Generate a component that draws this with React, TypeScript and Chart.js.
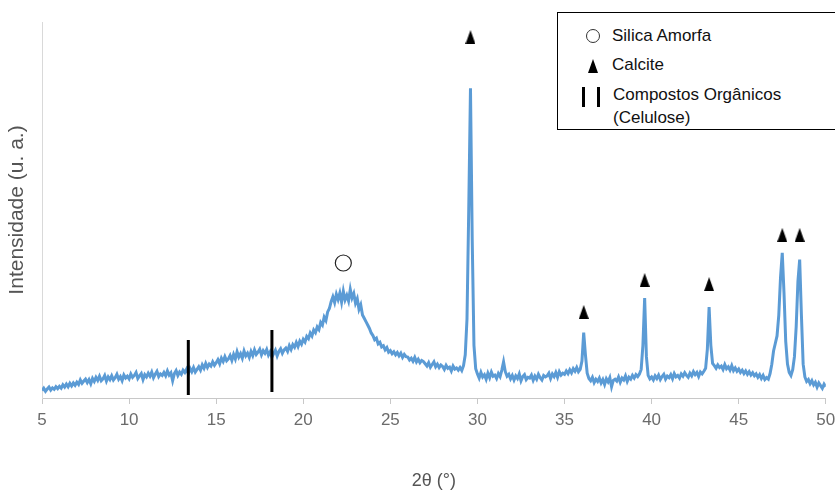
import React, { useEffect, useRef } from "react";
import { Chart, registerables } from "chart.js";

Chart.register(...registerables);

// 2θ scan: starts at 5°, 0.1° per reading
const thetaStart = 5;
const thetaStep = 0.1;

// Intensity readings (a.u.), one row per degree (x.0 … x.9)
const intensity: number[] = [
  // 5
  2.0, 2.6, 1.8, 2.4, 2.9, 2.1, 2.7, 2.3, 3.0, 2.5,
  // 6
  3.1, 2.6, 3.5, 2.9, 3.7, 3.0, 3.9, 3.2, 4.0, 3.4,
  // 7
  4.2, 3.6, 4.8, 3.9, 4.5, 5.0, 4.1, 4.9, 3.8, 5.2,
  // 8
  4.4, 5.5, 4.7, 5.8, 4.6, 5.1, 6.0, 4.5, 5.6, 4.9,
  // 9
  5.9, 4.8, 5.4, 6.3, 5.0, 5.7, 4.6, 6.1, 5.3, 5.8,
  // 10
  5.1, 6.4, 5.5, 6.0, 6.8, 5.2, 5.9, 6.5, 4.9, 6.2,
  // 11
  5.6, 6.6, 5.8, 6.9, 5.4, 6.3, 7.1, 5.7, 6.4, 6.0,
  // 12
  6.8, 5.9, 7.2, 6.1, 6.7, 4.6, 6.5, 7.3, 6.0, 6.9,
  // 13
  6.3, 7.4, 6.8, 7.7, 6.5, 7.9, 7.0, 8.1, 6.9, 7.6,
  // 14
  8.3, 7.4, 8.8, 7.9, 9.2, 8.1, 9.0, 8.5, 9.6, 8.7,
  // 15
  9.4, 10.2, 9.1, 10.6, 9.7, 11.0, 9.9, 10.4, 11.3, 10.0,
  // 16
  11.6, 10.4, 12.3, 10.9, 11.8, 10.6, 12.5, 11.2, 11.9, 10.8,
  // 17
  12.4, 11.3, 12.8, 11.6, 12.2, 13.0, 11.5, 12.6, 11.9, 12.9,
  // 18
  11.4, 12.3, 10.9, 11.8, 12.7, 11.2, 12.4, 13.1, 11.9, 12.8,
  // 19
  13.3, 12.4, 13.9, 12.9, 14.2, 13.5, 14.8, 13.7, 15.1, 14.3,
  // 20
  15.6, 14.9, 16.4, 15.8, 17.3, 16.5, 18.1, 17.4, 18.9, 18.2,
  // 21
  20.1, 19.4, 21.5, 20.6, 22.9, 23.8, 25.6, 26.9, 25.4, 27.6,
  // 22
  26.2, 27.9, 25.5, 28.4, 26.1, 27.3, 25.8, 28.9, 26.6, 27.8,
  // 23
  25.2, 26.4, 23.6, 24.8, 22.1, 21.2, 20.3, 19.4, 18.5, 17.3,
  // 24
  16.6, 15.5, 15.9, 14.4, 14.8, 13.6, 13.9, 12.8, 13.4, 12.2,
  // 25
  12.6, 11.8, 12.3, 11.5, 12.1, 11.2, 11.9, 10.8, 11.6, 11.0,
  // 26
  10.9, 10.1, 10.6, 9.8, 10.8, 9.6, 10.3, 9.4, 10.0, 9.7,
  // 27
  9.1, 8.5, 9.4, 8.2, 8.9, 9.6, 8.3, 9.0, 8.1, 8.8,
  // 28
  8.4, 7.6, 8.7, 7.9, 8.2, 7.2, 8.5, 7.7, 8.0, 7.4,
  // 29
  8.1, 7.3, 8.6, 11.5, 21.0, 50.0, 82.4, 42.0, 14.0, 7.8,
  // 30
  6.4, 5.3, 6.8, 5.6, 6.2, 5.0, 6.6, 5.4, 6.9, 5.8,
  // 31
  6.1, 5.2, 6.5, 5.7, 7.4, 9.6, 7.0, 5.8, 6.3, 5.1,
  // 32
  6.0, 4.8, 5.9, 5.2, 6.4, 4.6, 5.7, 6.2, 4.9, 5.5,
  // 33
  5.3, 6.1, 4.7, 5.8, 5.0, 6.3, 5.4, 4.8, 6.0, 5.6,
  // 34
  5.9, 6.6, 5.2, 6.4, 5.7, 6.8, 5.5, 7.0, 6.1, 6.6,
  // 35
  6.3, 7.2, 6.5, 7.5, 6.7, 7.8, 7.1, 8.1, 7.0, 7.6,
  // 36
  9.8, 17.4, 11.5, 6.6, 5.2, 4.6, 5.5, 4.1, 5.0, 4.4,
  // 37
  5.3, 4.0, 4.9, 3.6, 5.1, 4.3, 5.4, 3.0, 4.7, 5.0,
  // 38
  4.5, 5.6, 4.2, 5.3, 4.8, 5.9, 4.4, 5.5, 5.0, 6.0,
  // 39
  5.3, 6.2, 5.7, 6.4, 7.6, 14.0, 26.6, 11.0, 6.0, 5.1,
  // 40
  5.6, 4.8, 5.9, 5.2, 6.1, 4.9, 5.7, 6.3, 5.0, 5.8,
  // 41
  5.4, 6.2, 5.1, 6.5, 5.6, 6.0, 5.3, 6.4, 5.8, 6.7,
  // 42
  6.0, 5.5, 6.6, 5.9, 7.0, 6.2, 6.8, 5.7, 6.9, 6.4,
  // 43
  7.1, 7.9, 13.0, 24.2, 14.0, 9.2, 8.6, 7.9, 8.8, 8.1,
  // 44
  8.5, 7.6, 8.9, 7.8, 8.3, 7.4, 8.6, 7.3, 8.0, 7.1,
  // 45
  7.7, 6.8, 7.4, 6.5, 7.2, 6.3, 7.0, 6.1, 6.7, 5.9,
  // 46
  6.4, 5.5, 6.2, 5.2, 6.0, 4.9, 5.4, 5.0, 6.5, 9.0,
  // 47
  12.5, 14.5, 16.5, 22.0, 32.0, 38.6, 28.0, 15.0, 9.0, 6.8,
  // 48
  6.0, 7.5, 11.0, 19.0, 31.0, 36.8, 22.0, 9.0, 5.6, 4.4,
  // 49
  4.9, 3.8, 4.6, 3.5, 4.2, 2.9, 4.0, 3.3, 2.6, 3.7,
  // 50
  3.0,
];

// Peak markers
const calciteTheta = [29.6, 36.1, 39.6, 43.3, 47.5, 48.5];
const calciteMark = [96.0, 22.9, 31.4, 30.3, 43.4, 43.4];
const silicaTheta = [22.3];
const silicaMark = [35.9];
const celluloseTheta = [13.4, 18.2];
const celluloseLow = [0.8, 1.6];
const celluloseHigh = [15.4, 18.1];

const xTicks = [5, 10, 15, 20, 25, 30, 35, 40, 45, 50];

const FONT = "'Liberation Sans', Arial, sans-serif";

function makeTriangle(): HTMLCanvasElement {
  const c = document.createElement("canvas");
  c.width = 10;
  c.height = 14;
  const g = c.getContext("2d")!;
  g.fillStyle = "#000";
  g.beginPath();
  g.moveTo(5, 0);
  g.lineTo(10, 14);
  g.lineTo(0, 14);
  g.closePath();
  g.fill();
  return c;
}

export default function App() {
  const ref = useRef<HTMLCanvasElement | null>(null);

  useEffect(() => {
    if (!ref.current) return;
    const tri = makeTriangle();
    const lineData = intensity.map((v, i) => ({
      x: +(thetaStart + i * thetaStep).toFixed(2),
      y: v,
    }));
    const barSets = celluloseTheta.map((t, i) => ({
      type: "line" as const,
      data: [
        { x: t, y: celluloseLow[i] },
        { x: t, y: celluloseHigh[i] },
      ],
      borderColor: "#000",
      borderWidth: 3,
      pointRadius: 0,
      order: 0,
    }));
    const chart = new Chart(ref.current, {
      type: "line",
      data: {
        datasets: [
          {
            type: "scatter",
            data: calciteTheta.map((t, i) => ({ x: t, y: calciteMark[i] })),
            pointStyle: tri,
            pointRadius: 7,
            order: 0,
          } as any,
          {
            type: "scatter",
            data: silicaTheta.map((t, i) => ({ x: t, y: silicaMark[i] })),
            pointStyle: "circle",
            pointRadius: 8,
            backgroundColor: "rgba(255,255,255,0)",
            borderColor: "#222",
            borderWidth: 1.2,
            order: 0,
          } as any,
          ...(barSets as any[]),
          {
            type: "line",
            data: lineData,
            borderColor: "#5b9bd5",
            borderWidth: 3,
            pointRadius: 0,
            tension: 0,
            order: 1,
          },
        ],
      },
      options: {
        animation: false,
        responsive: true,
        maintainAspectRatio: false,
        layout: { padding: { top: 22, right: 7, left: 0, bottom: 0 } },
        plugins: {
          legend: { display: false },
          tooltip: { enabled: false },
        },
        scales: {
          x: {
            type: "linear",
            min: 5,
            max: 50,
            afterFit: (s: any) => {
              s.height = 94;
              s.paddingRight = 0;
              s.paddingLeft = 0;
            },
            afterBuildTicks: (s: any) => {
              s.ticks = xTicks.map((v) => ({ value: v }));
            },
            ticks: {
              color: "#6b6b6b",
              font: { family: FONT, size: 17 },
              padding: 6,
              maxRotation: 0,
              autoSkip: false,
            },
            grid: {
              display: true,
              drawOnChartArea: false,
              drawTicks: true,
              tickLength: 6,
              color: "#c8c8c8",
            },
            border: { display: true, color: "#c8c8c8", width: 1 },
            title: {
              display: true,
              text: "2θ (°)",
              color: "#555",
              font: { family: FONT, size: 18 },
              padding: { top: 0, bottom: 0 },
            },
          },
          y: {
            type: "linear",
            min: 0,
            max: 100,
            afterFit: (s: any) => {
              s.width = 42;
            },
            ticks: { display: false },
            grid: { display: false },
            border: { display: true, color: "#d9d9d9", width: 1 },
            title: {
              display: true,
              text: "Intensidade (u. a.)",
              color: "#555",
              font: { family: FONT, size: 21 },
              padding: { top: 5, bottom: 0 },
            },
          },
        },
      },
    });
    return () => chart.destroy();
  }, []);

  const textStyle: React.CSSProperties = {
    position: "absolute",
    left: 54,
    fontFamily: FONT,
    fontSize: 17,
    color: "#111",
    lineHeight: "20px",
    whiteSpace: "nowrap",
  };

  return (
    <div
      style={{
        position: "fixed",
        left: 0,
        top: 0,
        width: 835,
        height: 492,
        background: "#fff",
        overflow: "hidden",
      }}
    >
      <canvas ref={ref} />
      <div
        style={{
          position: "absolute",
          left: 557,
          top: 12,
          width: 300,
          height: 118,
          border: "1px solid #000",
          background: "#fff",
          boxSizing: "border-box",
        }}
      >
        <div
          style={{
            position: "absolute",
            left: 28,
            top: 16,
            width: 14,
            height: 14,
            borderRadius: "50%",
            border: "1.2px solid #333",
            boxSizing: "border-box",
          }}
        />
        <div style={{ ...textStyle, top: 13 }}>Silica Amorfa</div>
        <div
          style={{
            position: "absolute",
            left: 30,
            top: 46,
            width: 0,
            height: 0,
            borderLeft: "5px solid transparent",
            borderRight: "5px solid transparent",
            borderBottom: "14px solid #000",
          }}
        />
        <div style={{ ...textStyle, top: 42 }}>Calcite</div>
        <div
          style={{
            position: "absolute",
            left: 24,
            top: 74,
            width: 3,
            height: 20,
            background: "#000",
          }}
        />
        <div
          style={{
            position: "absolute",
            left: 39,
            top: 74,
            width: 3,
            height: 20,
            background: "#000",
          }}
        />
        <div style={{ ...textStyle, left: 55, top: 72 }}>Compostos Orgânicos</div>
        <div style={{ ...textStyle, left: 55, top: 95 }}>(Celulose)</div>
      </div>
    </div>
  );
}
